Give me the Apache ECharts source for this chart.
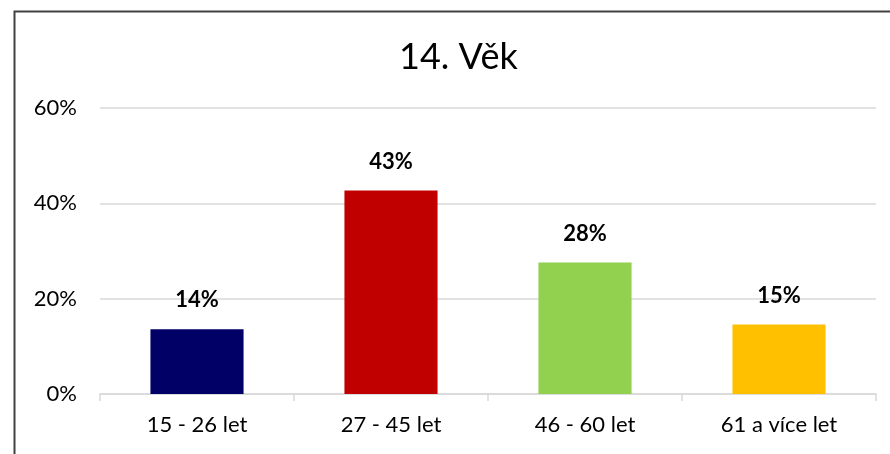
<!DOCTYPE html>
<html>
<head>
<meta charset="utf-8">
<script src="https://cdn.jsdelivr.net/npm/echarts@6/dist/echarts.min.js"></script>
<style>
  html, body { margin: 0; padding: 0; background: #fff; }
  #chart { width: 890px; height: 454px; }
</style>
</head>
<body>
<div id="chart"></div>
<script>
// data
var categories = ['15 - 26 let', '27 - 45 let', '46 - 60 let', '61 a více let'];
var values = [13.6, 42.7, 27.6, 14.6];
var barColors = ['#000066', '#C00000', '#92D050', '#FFC000'];
var yTicks = [0, 20, 40, 60];

var font = 'Lato, "DejaVu Sans", sans-serif';

var barData = [];
for (var i = 0; i < values.length; i++) {
    barData.push({
        value: values[i],
        itemStyle: { color: barColors[i] }
    });
}

var chart = echarts.init(document.getElementById('chart'));

var option = {
    animation: false,
    title: {
        text: '14. Věk',
        left: 394,
        top: 34,
        textStyle: {
            fontFamily: font,
            fontSize: 36,
            fontWeight: 'normal',
            color: '#000'
        }
    },
    graphic: [{
        type: 'rect',
        shape: { x: 14.5, y: 11.5, width: 900, height: 500 },
        style: { fill: 'none', stroke: '#404040', lineWidth: 2 },
        silent: true
    }],
    grid: {
        left: 100,
        right: 14,
        top: 108,
        bottom: 60
    },
    xAxis: {
        type: 'category',
        data: categories,
        axisLine: { lineStyle: { color: '#d9d9d9', width: 1.5 } },
        axisTick: { show: true, length: 7, lineStyle: { color: '#d9d9d9', width: 1.5 } },
        axisLabel: {
            fontFamily: font,
            fontSize: 22,
            color: '#000',
            margin: 20
        }
    },
    yAxis: {
        type: 'value',
        min: yTicks[0],
        max: yTicks[yTicks.length - 1],
        interval: 20,
        axisLine: { show: false },
        axisTick: { show: false },
        splitLine: { lineStyle: { color: '#d9d9d9', width: 1.5 } },
        axisLabel: {
            fontFamily: font,
            fontSize: 22,
            color: '#000',
            margin: 23,
            formatter: '{value}%'
        }
    },
    series: [{
        type: 'bar',
        data: barData,
        barWidth: '48%',
        label: {
            show: true,
            position: 'top',
            distance: 18,
            fontFamily: font,
            fontSize: 22,
            fontWeight: 'bold',
            color: '#000',
            formatter: function (p) { return Math.round(p.value) + '%'; }
        }
    }]
};

chart.setOption(option);
</script>
</body>
</html>
